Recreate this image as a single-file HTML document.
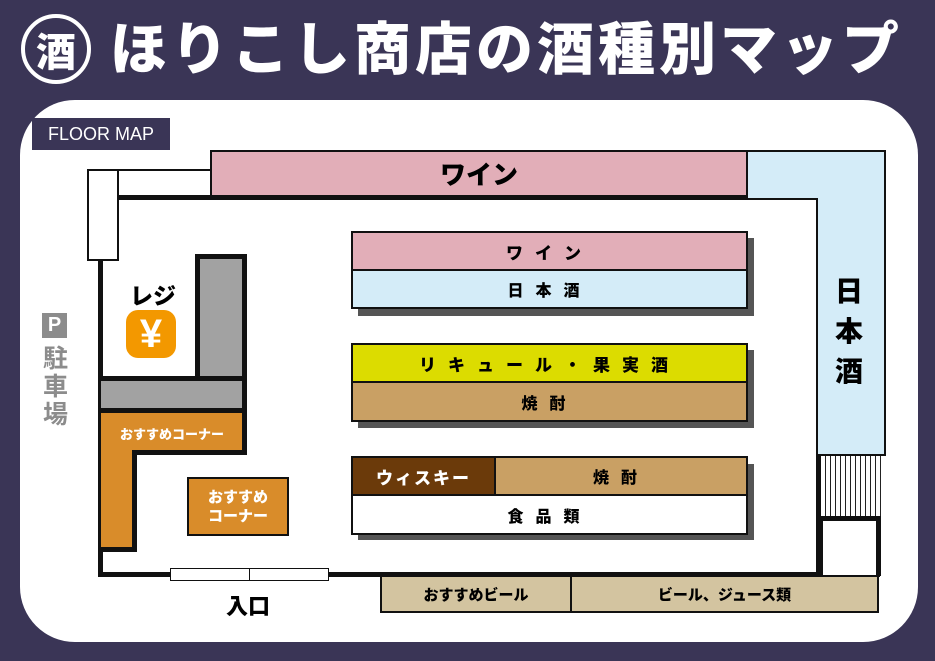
<!DOCTYPE html>
<html><head><meta charset="utf-8"><style>
*{margin:0;padding:0;box-sizing:border-box}
body{width:935px;height:661px;background:#3a3556;position:relative;overflow:hidden;font-family:"Liberation Sans","Noto Sans CJK JP",sans-serif;font-weight:bold}
.a{position:absolute}
.t{display:flex;align-items:center;justify-content:center;font-weight:900}
.b{border:2px solid #111}
.w{background:#111}
</style></head><body>
<!-- title -->
<div class="a" style="left:21px;top:14px;width:70px;height:70px;border:4px solid #fff;border-radius:50%"></div>
<div class="a t" style="left:21px;top:14px;width:70px;height:70px;color:#fff;font-size:40px">酒</div>
<div class="a" style="left:110px;top:10px;color:#fff;font-size:57px;letter-spacing:4px;font-weight:900;white-space:nowrap;line-height:80px">ほりこし商店の酒種別マップ</div>
<!-- panel -->
<div class="a" style="left:20px;top:100px;width:898px;height:542px;background:#fff;border-radius:55px"></div>
<div class="a t" style="left:32px;top:118px;width:138px;height:32px;background:#3a3556;color:#fff;font-size:18px;font-weight:normal">FLOOR MAP</div>
<!-- parking -->
<div class="a t" style="left:42px;top:313px;width:25px;height:25px;background:#8c8c8c;color:#fff;font-size:20px">P</div>
<div class="a" style="left:43px;top:345px;width:30px;color:#8c8c8c;font-size:25px;line-height:28px">駐<br>車<br>場</div>
<!-- walls -->
<div class="a b" style="left:87px;top:169px;width:32px;height:92px;background:#fff"></div>
<div class="a b" style="left:117px;top:169px;width:95px;height:29px;background:#fff"></div>
<div class="a w" style="left:117px;top:195px;width:703px;height:5px"></div>
<div class="a w" style="left:816px;top:195px;width:5px;height:382px"></div>
<div class="a w" style="left:98px;top:259px;width:5px;height:318px"></div>
<div class="a w" style="left:98px;top:572px;width:782px;height:5px"></div>
<!-- top wine -->
<div class="a t b" style="left:210px;top:150px;width:538px;height:47px;background:#e2aeb8;font-size:26px">ワイン</div>
<div class="a b" style="left:746px;top:150px;width:140px;height:48px;background:#d4ecf8;border-bottom:none"></div>
<div class="a" style="left:818px;top:196px;width:68px;height:260px;background:#d4ecf8;border-right:2px solid #111;border-bottom:2px solid #111"></div>
<div class="a" style="left:835px;top:272px;font-size:28px;line-height:40px;font-weight:900">日<br>本<br>酒</div>
<div class="a" style="left:821px;top:456px;width:63px;height:62px;background:repeating-linear-gradient(90deg,#fff 0 4px,#222 4px 5px)"></div>
<div class="a" style="left:818px;top:516px;width:63px;height:60px;background:#fff;border:5px solid #111;border-bottom:none"></div>
<!-- register -->
<div class="a" style="left:195px;top:254px;width:52px;height:158px;background:#a2a2a2;border:5px solid #111;border-bottom:none"></div>
<div class="a" style="left:101px;top:376px;width:146px;height:36px;background:#a2a2a2;border-top:5px solid #111;border-right:5px solid #111"></div>
<div class="a" style="left:190px;top:381px;width:52px;height:30px;background:#a2a2a2"></div>
<div class="a" style="left:130px;top:277px;font-size:23px;font-weight:900">レジ</div>
<div class="a t" style="left:126px;top:310px;width:50px;height:48px;background:#f39800;border-radius:12px;color:#fff;font-size:40px">¥</div>
<!-- orange corner -->
<div class="a" style="left:101px;top:408px;width:146px;height:47px;background:#d98c2a;border:5px solid #111;border-left:none"></div>
<div class="a" style="left:101px;top:450px;width:36px;height:102px;background:#d98c2a;border-right:5px solid #111;border-bottom:5px solid #111"></div>
<div class="a" style="left:101px;top:440px;width:31px;height:20px;background:#d98c2a"></div>
<div class="a t" style="left:103px;top:420px;width:138px;height:26px;color:#fff;font-size:13px">おすすめコーナー</div>
<div class="a t b" style="left:187px;top:477px;width:102px;height:59px;background:#d98c2a;color:#fff;font-size:15px;line-height:19px;text-align:center">おすすめ<br>コーナー</div>
<!-- door -->
<div class="a b" style="left:170px;top:568px;width:80px;height:13px;background:#fff;border-width:1.5px"></div>
<div class="a b" style="left:249px;top:568px;width:80px;height:13px;background:#fff;border-width:1.5px"></div>
<div class="a" style="left:226px;top:589px;font-size:22px;font-weight:900">入口</div>
<!-- bottom shelves -->
<div class="a t b" style="left:380px;top:575px;width:192px;height:38px;background:#d3c4a0;font-size:15px">おすすめビール</div>
<div class="a t b" style="left:570px;top:575px;width:309px;height:38px;background:#d3c4a0;font-size:15px">ビール、ジュース類</div>
<!-- center shelves -->
<div class="a" style="left:358px;top:238px;width:396px;height:78px;background:#555"></div>
<div class="a t b" style="left:351px;top:231px;width:397px;height:40px;background:#e2aeb8;font-size:17px;letter-spacing:12px">ワイン</div>
<div class="a t b" style="left:351px;top:269px;width:397px;height:40px;background:#d4ecf8;font-size:16px;letter-spacing:12px">日本酒</div>
<div class="a" style="left:358px;top:350px;width:396px;height:78px;background:#555"></div>
<div class="a t b" style="left:351px;top:343px;width:397px;height:40px;background:#dcdc00;font-size:17px;letter-spacing:12px">リキュール・果実酒</div>
<div class="a t b" style="left:351px;top:381px;width:397px;height:41px;background:#c9a064;font-size:16px;letter-spacing:12px">焼酎</div>
<div class="a" style="left:358px;top:464px;width:396px;height:76px;background:#555"></div>
<div class="a t b" style="left:351px;top:456px;width:145px;height:40px;background:#6b3a0a;color:#fff;font-size:17px;letter-spacing:2px">ウィスキー</div>
<div class="a t b" style="left:494px;top:456px;width:254px;height:40px;background:#c9a064;font-size:16px;letter-spacing:12px">焼酎</div>
<div class="a t b" style="left:351px;top:494px;width:397px;height:41px;background:#fff;font-size:16px;letter-spacing:12px">食品類</div>
</body></html>
